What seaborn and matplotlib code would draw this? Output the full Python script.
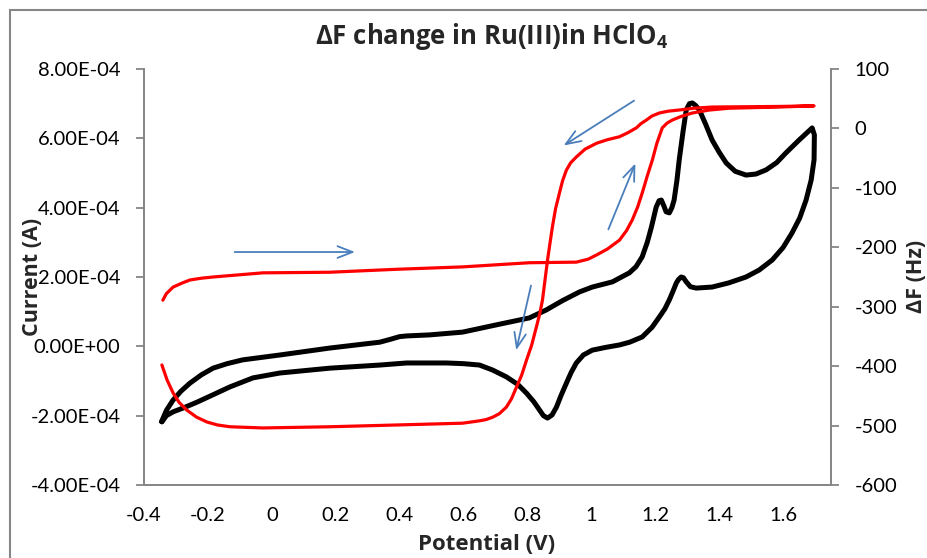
import numpy as np
import pandas as pd
import seaborn as sns
import matplotlib.pyplot as plt
from matplotlib.ticker import FuncFormatter, MultipleLocator
from matplotlib.patches import Rectangle

# --- Data ---
# cyclic voltammogram, current in units of 1e-4 A
CV_POTENTIAL = [
    -0.345, -0.330, -0.309, -0.285, -0.256, -0.220, -0.184, -0.140, -0.091, 0.025,
    0.181, 0.338, 0.370, 0.400, 0.422, 0.494, 0.597, 0.703, 0.806, 0.859,
    0.910, 0.963, 1.003, 1.066, 1.119, 1.140, 1.159, 1.175, 1.188, 1.203,
    1.212, 1.219, 1.227, 1.234, 1.244, 1.252, 1.259, 1.268, 1.275, 1.287,
    1.297, 1.307, 1.316, 1.326, 1.338, 1.358, 1.378, 1.400, 1.422, 1.450,
    1.484, 1.515, 1.547, 1.580, 1.609, 1.650, 1.691,
    1.698, 1.697, 1.688, 1.672, 1.652, 1.628, 1.600, 1.566, 1.525, 1.484,
    1.430, 1.378, 1.328, 1.310, 1.297, 1.288, 1.281, 1.273, 1.266, 1.256,
    1.244, 1.230, 1.213, 1.190, 1.159, 1.120, 1.088, 1.045, 1.003, 0.975,
    0.953, 0.937, 0.922, 0.905, 0.891, 0.877, 0.863, 0.850, 0.838, 0.820,
    0.797, 0.770, 0.734, 0.690, 0.650, 0.600, 0.547, 0.422, 0.338, 0.181,
    0.025, -0.059, -0.131, -0.180, -0.234, -0.275, -0.309, -0.330, -0.344,
]
CV_CURRENT = [
    -2.17, -1.85, -1.55, -1.30, -1.06, -0.82, -0.63, -0.50, -0.39, -0.25,
    -0.05, 0.12, 0.20, 0.28, 0.30, 0.33, 0.41, 0.62, 0.82, 1.05,
    1.32, 1.57, 1.71, 1.86, 2.12, 2.30, 2.58, 3.00, 3.44, 4.02,
    4.20, 4.22, 4.05, 3.88, 3.85, 4.00, 4.22, 4.80, 5.38, 6.20,
    6.82, 7.00, 7.02, 6.95, 6.82, 6.40, 5.95, 5.60, 5.29, 5.05,
    4.94, 4.97, 5.09, 5.30, 5.58, 5.95, 6.30,
    6.10, 5.38, 4.80, 4.22, 3.70, 3.27, 2.85, 2.49, 2.20, 2.00,
    1.83, 1.71, 1.68, 1.72, 1.86, 1.98, 2.00, 1.93, 1.83, 1.60,
    1.34, 1.08, 0.85, 0.55, 0.27, 0.12, 0.04, -0.03, -0.11, -0.25,
    -0.48, -0.75, -1.06, -1.42, -1.75, -1.98, -2.07, -2.00, -1.84, -1.60,
    -1.35, -1.10, -0.88, -0.68, -0.54, -0.50, -0.48, -0.48, -0.54, -0.63,
    -0.77, -0.91, -1.17, -1.38, -1.61, -1.77, -1.89, -2.00, -2.18,
]

# frequency change (Hz) on the right axis
DF_POTENTIAL = [
    -0.341, -0.330, -0.309, -0.280, -0.256, -0.220, -0.184, -0.028, 0.181, 0.391,
    0.597, 0.806, 0.953, 0.990, 1.016, 1.050, 1.088, 1.110, 1.128, 1.145,
    1.159, 1.175, 1.191, 1.205, 1.222, 1.237, 1.253, 1.280, 1.316, 1.370,
    1.431, 1.588, 1.697,
    1.588, 1.480, 1.378, 1.320, 1.275, 1.240, 1.213, 1.190, 1.172, 1.155,
    1.141, 1.115, 1.088, 1.050, 1.016, 0.980, 0.953, 0.935, 0.922, 0.910,
    0.900, 0.888, 0.878, 0.870, 0.863, 0.855, 0.847, 0.838, 0.828, 0.813,
    0.797, 0.782, 0.766, 0.750, 0.734, 0.712, 0.691, 0.670, 0.650, 0.597,
    0.391, 0.181, -0.028, -0.131, -0.170, -0.203, -0.235, -0.266, -0.290, -0.309,
    -0.328, -0.344,
]
DF_HZ = [
    -289, -278, -267, -260, -255, -252, -250, -243, -242, -237,
    -233, -226, -225, -220, -213, -203, -188, -172, -154, -132,
    -109, -80, -53, -25, 1, 9, 14, 20, 26, 31,
    34, 36, 38,
    37, 36.5, 36, 34, 31, 29, 26, 21, 14, 8,
    1, -7, -14, -19, -25, -35, -48, -58, -70, -88,
    -109, -135, -166, -195, -221, -255, -289, -313, -334, -365,
    -390, -415, -435, -455, -469, -480, -486, -490, -492, -496,
    -499, -502, -504, -502, -499, -494, -486, -474, -461, -445,
    -423, -398,
]

# hand-drawn direction arrows: (x_start, i_start, x_end, i_end), current in 1e-4 A
ARROWS = [
    (-0.125, 2.72, 0.269, 2.72),
    (1.141, 7.13, 0.906, 5.75),
    (1.050, 3.30, 1.141, 5.35),
    (0.813, 1.83, 0.763, -0.19),
]

X_TICKS = [-0.4, -0.2, 0, 0.2, 0.4, 0.6, 0.8, 1, 1.2, 1.4, 1.6]

# --- Style ---
FONT = ["Lato", "DejaVu Sans"]
BOLD_FONT = ["Open Sans", "DejaVu Sans"]
AXIS_GREY = "#868686"
ARROW_BLUE = "#4A7EBB"

sns.set_theme(style="white")
plt.rcParams["font.family"] = FONT
plt.rcParams["mathtext.fontset"] = "custom"
plt.rcParams["mathtext.bf"] = "Open Sans:bold"
plt.rcParams["mathtext.rm"] = "Open Sans:bold"
plt.rcParams["mathtext.default"] = "bf"

cv = pd.DataFrame({"E": CV_POTENTIAL, "I": np.array(CV_CURRENT) * 1e-4})
df = pd.DataFrame({"E": DF_POTENTIAL, "F": DF_HZ})

fig, ax = plt.subplots(figsize=(9.27, 5.58), dpi=100)
fig.subplots_adjust(left=144 / 927, right=831 / 927, top=1 - 69 / 558, bottom=1 - 485 / 558)
ax2 = ax.twinx()

sns.lineplot(data=cv, x="E", y="I", sort=False, estimator=None, color="black",
             linewidth=3.6, ax=ax, solid_joinstyle="round", solid_capstyle="round")
sns.lineplot(data=df, x="E", y="F", sort=False, estimator=None, color="#FF0000",
             linewidth=2.3, ax=ax2, solid_joinstyle="round", solid_capstyle="round")

for x0, y0, x1, y1 in ARROWS:
    ax.annotate("", xy=(x1, y1 * 1e-4), xytext=(x0, y0 * 1e-4),
                arrowprops=dict(arrowstyle="->,head_length=0.9,head_width=0.35",
                                color=ARROW_BLUE, lw=1.3))

ax.set_xlim(-0.4, 1.75)
ax.set_ylim(-4e-4, 8e-4)
ax2.set_ylim(-600, 100)
ax.set_xticks(X_TICKS)
ax.yaxis.set_major_locator(MultipleLocator(2e-4))
ax2.yaxis.set_major_locator(MultipleLocator(100))
ax.yaxis.set_major_formatter(FuncFormatter(lambda v, p: f"{v:.2E}"))
ax.xaxis.set_major_formatter(FuncFormatter(lambda v, p: f"{round(v, 1):g}"))
ax2.yaxis.set_major_formatter(FuncFormatter(lambda v, p: f"{int(round(v))}"))

for a in (ax, ax2):
    for side in ("left", "right", "bottom"):
        a.spines[side].set_color(AXIS_GREY)
        a.spines[side].set_linewidth(1.3)
    a.spines["top"].set_visible(False)
    a.tick_params(axis="both", direction="out", length=6, width=1.3,
                  color=AXIS_GREY, labelsize=14.5, labelcolor="black", pad=11)
ax.tick_params(axis="x", pad=10)

ax.set_xlabel("")
ax.set_ylabel("")
ax2.set_ylabel("")

fig.text(492 / 927, 1 - 36 / 558, r"ΔF change in Ru(III)in HClO$_4$",
         ha="center", va="center", fontsize=18.5, fontweight="bold", family=BOLD_FONT)
fig.text(487 / 927, 1 - 544 / 558, "Potential (V)", ha="center", va="center",
         fontsize=16, fontweight="bold", family=BOLD_FONT)
fig.text(33 / 927, 1 - 277 / 558, "Current (A)", ha="center", va="center",
         rotation=90, fontsize=15.5, fontweight="bold", family=BOLD_FONT)
fig.text(916 / 927, 1 - 276 / 558, "ΔF (Hz)", ha="center", va="center",
         rotation=90, fontsize=15.5, fontweight="bold", family=BOLD_FONT)

# chart-area border
fig.patches.append(Rectangle((10 / 927, -0.05), 1.2, 1 - 10 / 558 + 0.05,
                             transform=fig.transFigure, fill=False,
                             edgecolor=AXIS_GREY, linewidth=1.5))

fig.savefig("out.png", dpi=100)
